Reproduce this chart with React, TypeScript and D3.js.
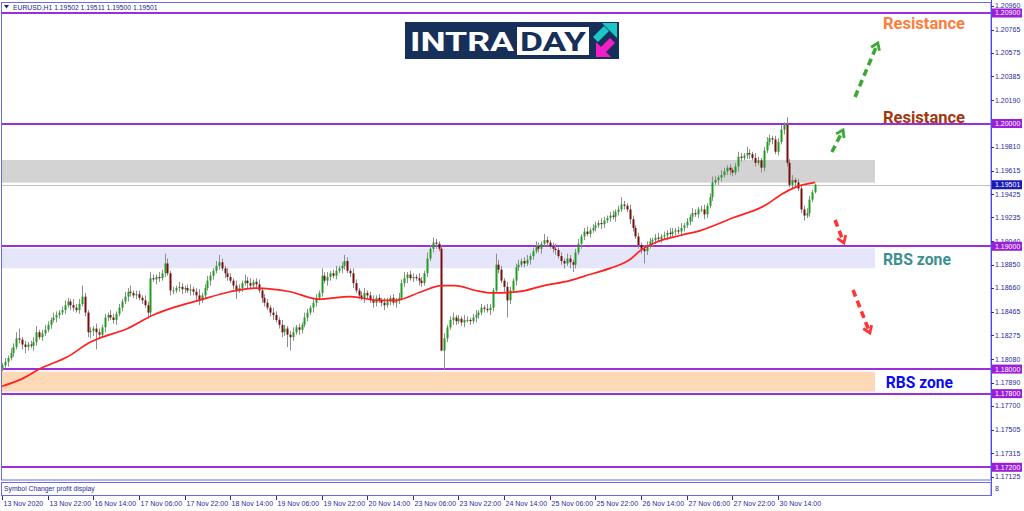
import React from "react";
import * as d3 from "d3";

// ---------------- data ----------------
const headerText = "EURUSD,H1  1.19502 1.19511 1.19500 1.19501";
const subWindowText = "Symbol Changer profit display";
const basePrice = 1.18; // closes are stored in pips above this price
const pipSize = 0.0001;
const firstOpenPips = 1;

const closePips = [
  3, 6, 9, 13, 18, 25, 24, 20, 18, 20, 19, 22, 30, 26, 29, 32,
  36, 40, 42, 44, 46, 48, 52, 55, 52, 50, 48, 53, 59, 46, 30, 31,
  33, 30, 28, 34, 42, 44, 42, 40, 45, 50, 55, 59, 63, 62, 60, 61,
  58, 56, 52, 46, 74, 73, 75, 74, 78, 86, 78, 64, 64, 66, 67, 65,
  66, 64, 65, 63, 60, 56, 60, 66, 72, 76, 80, 84, 87, 82, 78, 75,
  72, 68, 64, 66, 70, 72, 70, 68, 71, 69, 64, 58, 54, 50, 46, 44,
  40, 36, 30, 33, 28, 26, 30, 34, 32, 36, 42, 46, 50, 54, 58, 62,
  76, 72, 75, 78, 76, 80, 82, 84, 88, 80, 78, 70, 64, 60, 58, 62,
  60, 56, 54, 58, 56, 54, 52, 55, 58, 54, 56, 58, 70, 74, 77, 74,
  75, 74, 72, 70, 78, 90, 98, 103, 102, 98, 15, 25, 34, 40, 42, 39,
  41, 38, 40, 40, 39, 42, 44, 46, 50, 49, 48, 50, 64, 85, 81, 72,
  67, 56, 64, 72, 83, 85, 88, 86, 89, 92, 96, 100, 98, 102, 105, 103,
  100, 98, 97, 92, 88, 86, 90, 87, 85, 95, 102, 108, 112, 110, 113, 115,
  117, 119, 118, 121, 123, 125, 124, 128, 130, 134, 133, 130, 122, 115, 108, 101,
  98, 96, 100, 104, 105, 107, 106, 108, 109, 111, 110, 112, 113, 112, 115, 117,
  120, 124, 127, 126, 130, 130, 126, 133, 140, 152, 154, 156, 158, 161, 164, 162,
  160, 165, 173, 172, 174, 176, 175, 172, 168, 170, 164, 178, 185, 188, 187, 177,
  185, 195, 199, 168, 150, 154, 152, 147, 130, 125, 127, 138, 144, 150.1,
];

const upperWickPips = [
  2, 3, 2, 4, 3, 5, 8, 2, 3, 2, 3, 4, 5, 2, 3, 4,
  3, 2, 4, 3, 2, 3, 4, 3, 2, 5, 3, 4, 9, 3, 2, 3,
  2, 4, 3, 2, 3, 2, 4, 3, 2, 3, 2, 4, 3, 5, 2, 3,
  3, 2, 4, 3, 5, 3, 2, 4, 3, 8, 4, 2, 3, 2, 4, 3,
  2, 3, 4, 2, 3, 5, 2, 3, 4, 3, 2, 4, 6, 3, 2, 4,
  3, 2, 4, 3, 2, 5, 3, 4, 2, 3, 4, 2, 3, 3, 2, 4,
  3, 2, 4, 3, 2, 3, 4, 2, 3, 2, 4, 3, 2, 4, 3, 2,
  6, 3, 4, 2, 3, 4, 2, 3, 5, 3, 2, 4, 3, 2, 3, 4,
  2, 3, 4, 2, 3, 2, 4, 3, 2, 3, 2, 4, 3, 5, 2, 3,
  3, 2, 4, 3, 2, 5, 3, 4, 3, 2, 3, 4, 2, 3, 4, 2,
  3, 2, 4, 3, 2, 3, 4, 2, 3, 2, 4, 3, 2, 9, 4, 3,
  2, 4, 3, 2, 3, 4, 2, 3, 4, 2, 3, 4, 3, 2, 5, 3,
  2, 3, 4, 2, 3, 2, 4, 3, 2, 3, 4, 2, 3, 4, 2, 3,
  3, 2, 4, 3, 2, 3, 4, 2, 3, 6, 3, 2, 4, 3, 2, 3,
  2, 3, 4, 3, 2, 3, 4, 2, 3, 2, 4, 3, 2, 3, 4, 2,
  3, 2, 4, 3, 2, 3, 4, 2, 3, 5, 3, 2, 4, 3, 2, 3,
  2, 3, 4, 3, 2, 5, 3, 2, 4, 3, 2, 3, 4, 3, 2, 3,
  3, 4, 2, 6, 3, 4, 2, 3, 2, 3, 4, 3, 2, 1,
];

const lowerWickPips = [
  3, 2, 4, 2, 3, 2, 3, 4, 5, 3, 2, 4, 3, 2, 3, 2,
  2, 3, 2, 4, 3, 2, 3, 2, 4, 3, 2, 3, 2, 3, 4, 5,
  4, 14, 3, 2, 4, 3, 2, 3, 4, 2, 3, 2, 4, 3, 2, 3,
  2, 3, 2, 5, 3, 2, 4, 3, 2, 3, 2, 4, 3, 2, 3, 4,
  3, 2, 4, 3, 5, 4, 2, 3, 2, 4, 3, 2, 3, 2, 4, 3,
  2, 3, 7, 2, 3, 2, 4, 3, 2, 3, 2, 4, 3, 2, 3, 4,
  2, 3, 4, 3, 10, 11, 3, 2, 4, 3, 2, 3, 2, 4, 3, 2,
  3, 2, 4, 3, 2, 3, 2, 4, 3, 2, 3, 4, 2, 3, 2, 4,
  3, 2, 4, 3, 2, 3, 4, 2, 3, 2, 4, 3, 2, 3, 4, 2,
  3, 2, 4, 3, 2, 3, 2, 3, 4, 2, 0, 16, 3, 2, 4, 3,
  2, 3, 4, 2, 3, 2, 4, 3, 2, 3, 2, 4, 3, 2, 3, 2,
  4, 14, 3, 2, 4, 3, 2, 3, 2, 4, 3, 2, 3, 4, 2, 3,
  2, 3, 4, 2, 3, 4, 2, 5, 6, 3, 2, 4, 3, 2, 3, 2,
  3, 2, 4, 3, 2, 3, 2, 4, 3, 2, 3, 2, 4, 3, 2, 3,
  4, 10, 3, 2, 4, 3, 2, 3, 2, 4, 3, 2, 3, 2, 4, 3,
  2, 3, 4, 2, 3, 2, 4, 3, 2, 3, 2, 4, 3, 2, 3, 4,
  3, 2, 4, 3, 2, 3, 4, 2, 3, 2, 4, 3, 2, 3, 4, 2,
  3, 2, 4, 3, 2, 3, 4, 2, 3, 4, 2, 3, 2, 1,
];

// moving average (red line), read at selected bars
const maBars = [0, 6, 14, 23, 31, 34, 44, 53, 60, 69, 80, 89, 101, 111, 122, 132, 138, 147, 154, 159, 166, 172, 181, 190, 199, 206, 213, 220, 224, 230, 238, 245, 256, 268, 273, 278, 285];
const maPips = [-14, -9, 1, 10, 22, 25, 33, 44, 50, 56, 63, 66, 63, 57, 59, 56, 56, 63, 68, 68, 64, 62, 63, 68, 72, 77, 82, 89, 97, 104, 109, 113, 123, 134, 142, 148, 152];

const timeLabels = [
  "13 Nov 2020", "13 Nov 22:00", "16 Nov 14:00", "17 Nov 06:00", "17 Nov 22:00", "18 Nov 14:00",
  "19 Nov 06:00", "19 Nov 22:00", "20 Nov 14:00", "23 Nov 06:00", "23 Nov 22:00", "24 Nov 14:00",
  "25 Nov 06:00", "25 Nov 22:00", "26 Nov 14:00", "27 Nov 06:00", "27 Nov 22:00", "30 Nov 14:00",
];
const timeLabelBars = [0, 16, 32, 48, 64, 80, 96, 112, 128, 144, 160, 176, 192, 208, 224, 240, 256, 272];

const priceTicks = [
  "1.20960", "1.20765", "1.20575", "1.20385", "1.20190", "1.19810", "1.19615", "1.19425",
  "1.19235", "1.19040", "1.18850", "1.18660", "1.18465", "1.18275", "1.18080", "1.17890",
  "1.17700", "1.17505", "1.17315", "1.17125",
];

const levelPrices = [1.209, 1.2, 1.19, 1.18, 1.178, 1.172];
const levelLabels = ["1.20900", "1.20000", "1.19000", "1.18000", "1.17800", "1.17200"];
const lastPrice = 1.19501;
const lastPriceLabel = "1.19501";

const zoneTops = [1.19703, 1.18984, 1.17979];
const zoneBottoms = [1.19518, 1.18821, 1.17816];
const zoneColors = ["#d3d3d3", "#e6e6fa", "#fdd9b7"];
const zoneEndBar = 306;

const noteTexts = ["Resistance", "Resistance", "RBS zone", "RBS zone"];
const notePrices = [1.2077, 1.20008, 1.18848, 1.17846];
const noteBars = [308.8, 308.8, 308.8, 309.8];
const noteWidths = [82, 82, 68, 67];
const noteColors = ["#ff7d3c", "#a3360c", "#3d9090", "#0a0af5"];

const arrowFromBars = [299.0, 290.9, 292.0, 298.3];
const arrowFromPrices = [1.20216, 1.19768, 1.19214, 1.18644];
const arrowToBars = [307.0, 294.8, 295.1, 304.2];
const arrowToPrices = [1.20656, 1.19947, 1.19027, 1.18294];
const arrowColors = ["#3aaa35", "#3aaa35", "#ff3535", "#ff3535"];

// ---------------- component ----------------
const FONT = "'Liberation Sans', Arial, sans-serif";
const AXIS_BLUE = "#2a2a9c";
const FRAME = "#6a6ae8";
const LEVEL = "#9b2fdc";

export default function App() {
  const x = d3.scaleLinear().domain([0, 272]).range([2, 778]);
  const y = d3.scaleLinear().domain([1.172, 1.209]).range([467.3, 13]);
  const toPrice = (p: number) => basePrice + p * pipSize;

  const candles = closePips.map((c, i) => {
    const open = i === 0 ? toPrice(firstOpenPips) : toPrice(closePips[i - 1]);
    const close = toPrice(c);
    const high = Math.max(open, close) + upperWickPips[i] * pipSize;
    const low = Math.min(open, close) - lowerWickPips[i] * pipSize;
    return { i, open, close, high, low };
  });

  const maLine = d3
    .line<number>()
    .x((_, k) => x(maBars[k]))
    .y((p) => y(toPrice(p)))
    .curve(d3.curveMonotoneX)(maPips);

  const plotRight = 991;
  const zoneRight = x(zoneEndBar);

  const arrowHead = (x1: number, y1: number, x2: number, y2: number) => {
    const ang = Math.atan2(y2 - y1, x2 - x1);
    const L = 8;
    const a1 = ang + Math.PI - 0.6;
    const a2 = ang + Math.PI + 0.6;
    return `M${x2 + L * Math.cos(a1)},${y2 + L * Math.sin(a1)} L${x2},${y2} L${x2 + L * Math.cos(a2)},${y2 + L * Math.sin(a2)}`;
  };

  return (
    <svg
      width={1024}
      height={511}
      viewBox="0 0 1024 511"
      style={{ position: "absolute", left: 0, top: 0, background: "#ffffff" }}
    >
      <rect x={0} y={0} width={1024} height={511} fill="#ffffff" />

      {/* zones */}
      {zoneTops.map((t, k) => (
        <rect
          key={"z" + k}
          x={1}
          y={y(t)}
          width={zoneRight - 1}
          height={y(zoneBottoms[k]) - y(t)}
          fill={zoneColors[k]}
        />
      ))}

      {/* current price line */}
      <line x1={1} x2={plotRight} y1={Math.round(y(lastPrice)) + 0.5} y2={Math.round(y(lastPrice)) + 0.5} stroke="#c0c0c0" strokeWidth={1} />

      {/* level lines */}
      {levelPrices.map((p, k) => (
        <line key={"l" + k} x1={1} x2={plotRight} y1={Math.round(y(p))} y2={Math.round(y(p))} stroke={LEVEL} strokeWidth={2} />
      ))}

      {/* candles */}
      {candles.map((c) => {
        const cx = Math.round(x(c.i)) + 0.5;
        const bull = c.close >= c.open;
        const top = y(Math.max(c.open, c.close));
        const bot = y(Math.min(c.open, c.close));
        return (
          <g key={"c" + c.i}>
            <line x1={cx} x2={cx} y1={y(c.high)} y2={y(c.low)} stroke="#8e8e8e" strokeWidth={1} />
            <rect
              x={cx - 1}
              y={top}
              width={2}
              height={Math.max(1, bot - top)}
              fill={bull ? "#1f9d1f" : "#7a0c0c"}
            />
          </g>
        );
      })}

      {/* moving average */}
      <path d={maLine || ""} fill="none" stroke="#ff2020" strokeWidth={1.7} />

      {/* annotation arrows */}
      {arrowFromBars.map((b, k) => {
        const x1 = x(b), y1 = y(arrowFromPrices[k]);
        const x2 = x(arrowToBars[k]), y2 = y(arrowToPrices[k]);
        return (
          <g key={"a" + k} stroke={arrowColors[k]} fill="none">
            <line x1={x1} y1={y1} x2={x2 - (x2 - x1) * 0.08} y2={y2 - (y2 - y1) * 0.08} strokeWidth={3.6} strokeDasharray="7 4.5" />
            <path d={arrowHead(x1, y1, x2, y2)} strokeWidth={2.8} strokeLinejoin="miter" />
          </g>
        );
      })}

      {/* notes */}
      {noteTexts.map((t, k) => (
        <text
          key={"n" + k}
          x={x(noteBars[k])}
          y={y(notePrices[k])}
          fill={noteColors[k]}
          fontFamily="Roboto, 'Open Sans', sans-serif"
          fontWeight={700}
          fontSize={16}
          textLength={noteWidths[k]}
          lengthAdjust="spacingAndGlyphs"
        >
          {t}
        </text>
      ))}

      {/* logo */}
      <g>
        <rect x={405} y={22} width={214} height={37} fill="#173059" />
        <text x={410} y={51} fill="#ffffff" fontFamily="Roboto, 'Open Sans', sans-serif" fontWeight={700} fontSize={26} textLength={104} lengthAdjust="spacingAndGlyphs">INTRA</text>
        <rect x={517} y={27} width={72} height={28} fill="#ffffff" />
        <text x={520} y={51} fill="#173059" fontFamily="Roboto, 'Open Sans', sans-serif" fontWeight={700} fontSize={26} textLength={66} lengthAdjust="spacingAndGlyphs">DAY</text>
        <polygon points="593,37 598,42 609,31 604,26" fill="#19c7c9" />
        <polygon points="602,23 617,23 617,38" fill="#19c7c9" />
        <polygon points="615,43 610,38 600,48 605,53" fill="#f21fc6" />
        <polygon points="596,42 596,57 611,57" fill="#f21fc6" />
      </g>

      {/* main frame */}
      <rect x={1.5} y={2.5} width={plotRight - 1.5} height={477.5} fill="none" stroke={FRAME} strokeWidth={1} />

      {/* header */}
      <polygon points="4,5 9,5 6.5,8.5" fill="#1c1c8c" />
      <text x={13} y={9.5} fontFamily={FONT} fontSize={6.8} fill="#1c1c8c">{headerText}</text>

      {/* price axis */}
      <line x1={plotRight + 0.5} x2={plotRight + 0.5} y1={0} y2={496} stroke="#4a4af0" strokeWidth={1} />
      {priceTicks.map((t, k) => {
        const ty = y(+t);
        return (
          <g key={"pt" + k}>
            <line x1={plotRight} x2={plotRight + 3} y1={Math.round(ty) + 0.5} y2={Math.round(ty) + 0.5} stroke={AXIS_BLUE} />
            <text x={995} y={ty} dy="0.35em" fontFamily={FONT} fontSize={7} fill={AXIS_BLUE}>{t}</text>
          </g>
        );
      })}
      {levelPrices.map((p, k) => (
        <g key={"pl" + k}>
          <rect x={992} y={y(p) - 4.5} width={30} height={9} fill="#9b1ed8" />
          <text x={995} y={y(p)} dy="0.35em" fontFamily={FONT} fontSize={7} fill="#ffffff">{levelLabels[k]}</text>
        </g>
      ))}
      <rect x={992} y={y(lastPrice) - 4.5} width={30} height={9} fill="#1a1ab4" />
      <text x={995} y={y(lastPrice)} dy="0.35em" fontFamily={FONT} fontSize={7} fill="#ffffff">{lastPriceLabel}</text>

      {/* sub window */}
      <rect x={1.5} y={482.5} width={plotRight - 1.5} height={13} fill="none" stroke={FRAME} strokeWidth={1} />
      <text x={4} y={490.5} fontFamily={FONT} fontSize={6.8} fill={AXIS_BLUE}>{subWindowText}</text>
      <text x={995} y={491} fontFamily={FONT} fontSize={7} fill={AXIS_BLUE}>8</text>

      {/* time axis */}
      {timeLabelBars.map((b, k) => {
        const tx = Math.round(x(b)) + 0.5;
        return (
          <g key={"t" + k}>
            <line x1={tx} x2={tx} y1={496} y2={500} stroke={AXIS_BLUE} />
            <text x={tx + 1} y={506} fontFamily={FONT} fontSize={7} fill={AXIS_BLUE}>{timeLabels[k]}</text>
          </g>
        );
      })}
    </svg>
  );
}
